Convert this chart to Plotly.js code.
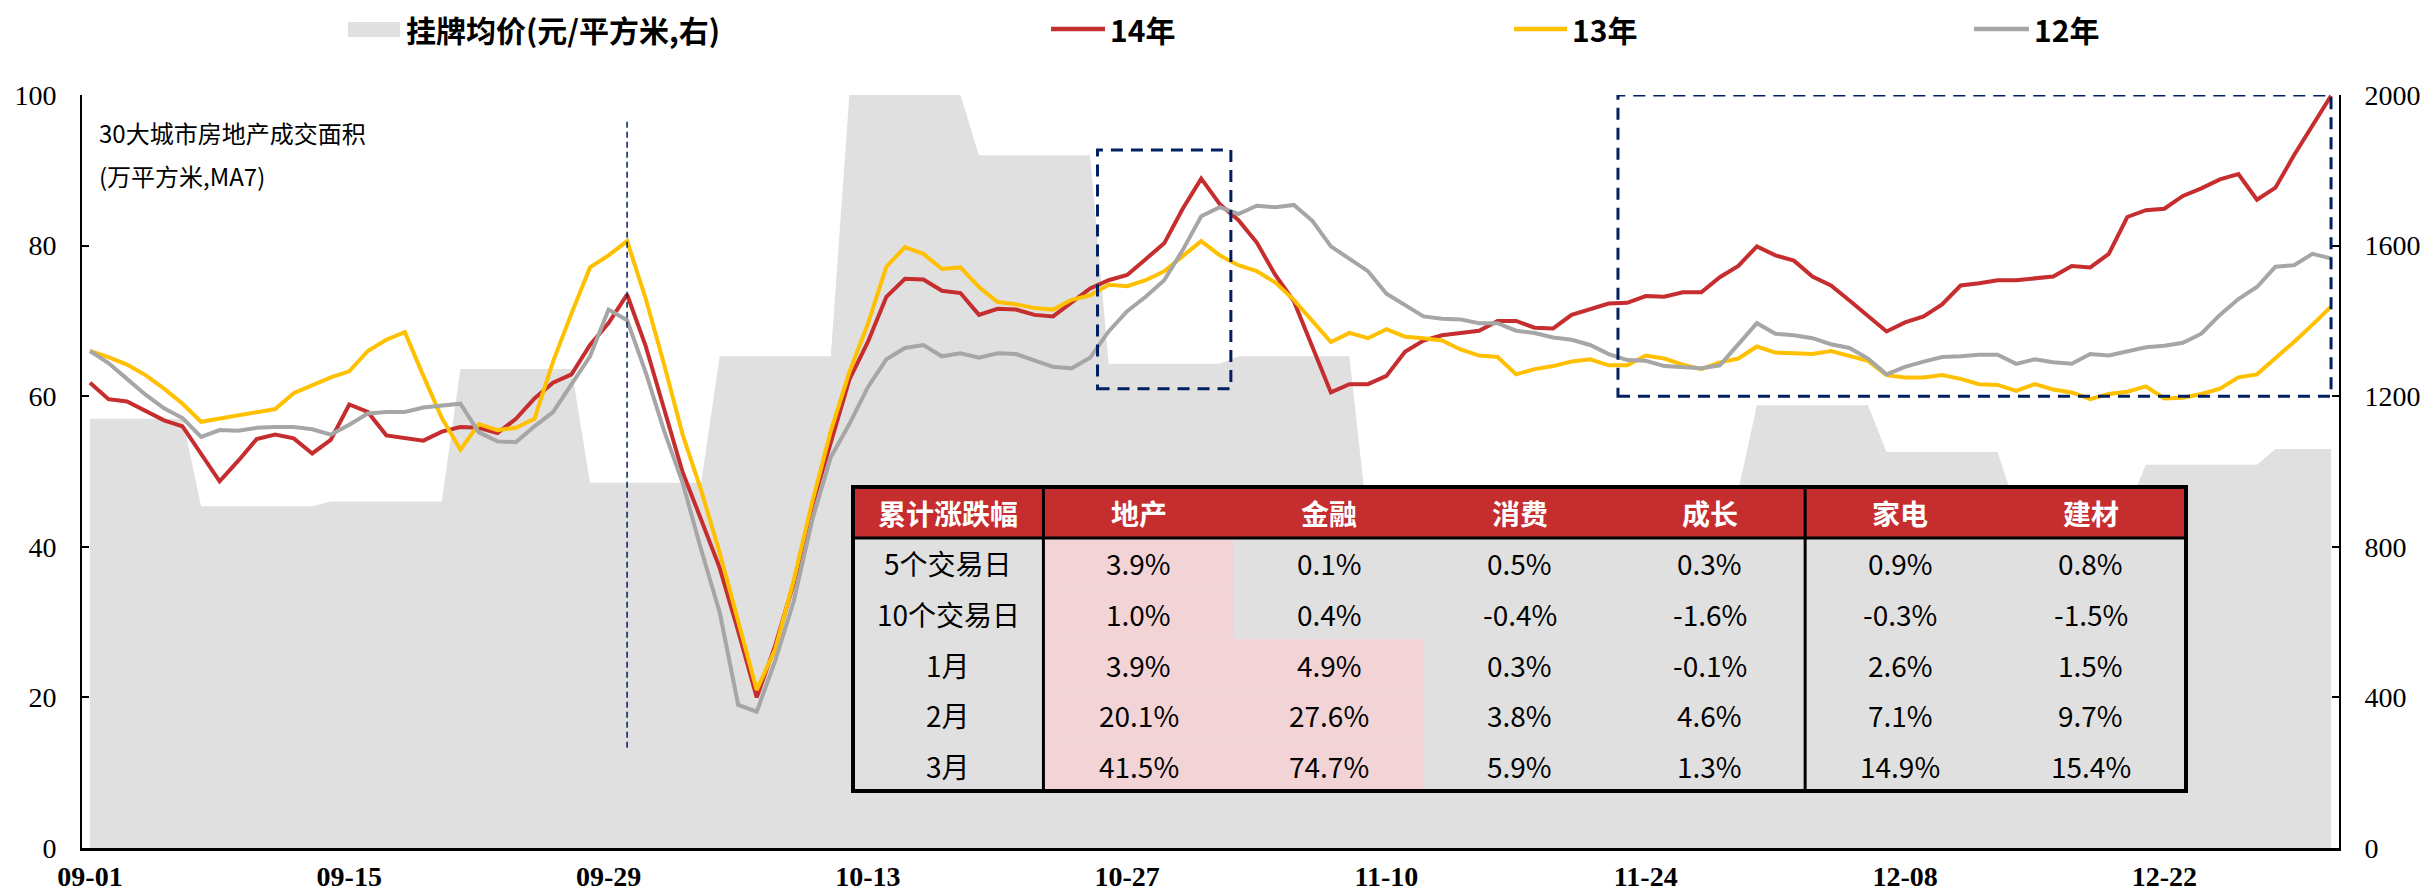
<!DOCTYPE html>
<html><head><meta charset="utf-8">
<script src="https://cdn.plot.ly/plotly-3.0.1.min.js"></script>
<style>html,body{margin:0;padding:0;background:#fff;}#chart{width:2428px;height:895px;}</style>
</head><body><div id="chart"></div>
<script>
const dates = ['09-01','09-02','09-03','09-04','09-05','09-06','09-07','09-08','09-09','09-10','09-11','09-12','09-13','09-14','09-15','09-16','09-17','09-18','09-19','09-20','09-21','09-22','09-23','09-24','09-25','09-26','09-27','09-28','09-29','09-30',
'10-01','10-02','10-03','10-04','10-05','10-06','10-07','10-08','10-09','10-10','10-11','10-12','10-13','10-14','10-15','10-16','10-17','10-18','10-19','10-20','10-21','10-22','10-23','10-24','10-25','10-26','10-27','10-28','10-29','10-30','10-31',
'11-01','11-02','11-03','11-04','11-05','11-06','11-07','11-08','11-09','11-10','11-11','11-12','11-13','11-14','11-15','11-16','11-17','11-18','11-19','11-20','11-21','11-22','11-23','11-24','11-25','11-26','11-27','11-28','11-29','11-30',
'12-01','12-02','12-03','12-04','12-05','12-06','12-07','12-08','12-09','12-10','12-11','12-12','12-13','12-14','12-15','12-16','12-17','12-18','12-19','12-20','12-21','12-22','12-23','12-24','12-25','12-26','12-27','12-28','12-29','12-30','12-31'];

const tickLabels = ['09-01','09-15','09-29','10-13','10-27','11-10','11-24','12-08','12-22'];

// 挂牌均价 (元/平方米, 右轴)
const price = [1140,1140,1140,1140,1140,1140,
908,908,908,908,908,908,908,
920,920,920,920,920,920,920,
1272,1272,1272,1272,1272,1272,1272,
970,970,970,970,970,970,970,
1306,1306,1306,1306,1306,1306,1306,
2000,2000,2000,2000,2000,2000,2000,
1840,1840,1840,1840,1840,1840,1840,
1286,1286,1286,1286,1286,1286,1286,
1306,1306,1306,1306,1306,1306,1306,
860,860,860,860,860,860,860,
930,930,930,930,930,930,930,
950,950,950,950,950,950,950,
1176,1176,1176,1176,1176,1176,1176,
1052,1052,1052,1052,1052,1052,1052,
900,900,900,900,900,900,900,
1018,1018,1018,1018,1018,1018,1018,
1060,1060,1060,1060];

// 14年
const y14 = [61.8,59.6,59.3,58.0,56.8,56.0,52.4,48.7,51.4,54.3,54.9,54.4,52.4,54.2,58.9,57.9,54.8,54.5,54.1,55.3,
55.9,55.8,55.1,57.0,59.7,61.8,62.9,66.8,69.7,73.5,66.7,58.3,49.9,43.6,37.2,28.8,20.0,26.9,35.2,45.5,
53.9,62.2,67.2,73.2,75.6,75.5,74.0,73.7,70.8,71.6,71.5,70.8,70.6,72.4,74.3,75.4,76.1,78.2,80.3,84.9,
88.9,85.5,83.4,80.4,76.1,72.6,66.6,60.5,61.6,61.6,62.7,65.9,67.4,68.1,68.4,68.7,70.0,70.0,69.1,69.0,
70.8,71.5,72.3,72.4,73.3,73.2,73.8,73.8,75.8,77.3,79.9,78.7,78.0,75.9,74.7,72.7,70.7,68.6,69.8,70.6,
72.2,74.7,75.0,75.4,75.4,75.7,75.9,77.3,77.1,78.9,83.8,84.7,84.9,86.6,87.6,88.8,89.5,86.1,87.7,92.0,
96.0,99.9];

// 13年
const y13 = [66.0,65.2,64.2,62.8,61.0,59.0,56.6,57.0,57.5,57.9,58.3,60.4,61.5,62.5,63.3,66.0,67.5,68.5,62.7,57.1,
52.9,56.3,55.5,55.8,57.0,64.6,71.0,77.1,78.7,80.6,73.0,64.2,54.9,47.5,39.2,30.3,21.0,26.4,35.6,46.0,
55.4,63.2,69.6,77.2,79.8,78.9,76.9,77.1,74.5,72.5,72.2,71.7,71.5,72.8,73.4,74.8,74.6,75.4,76.6,78.6,
80.6,78.7,77.4,76.6,75.1,72.8,69.9,67.2,68.4,67.7,68.9,67.9,67.7,67.4,66.2,65.4,65.2,62.9,63.6,64.0,
64.6,64.9,64.1,64.1,65.4,65.0,64.2,63.6,64.5,65.0,66.6,65.8,65.7,65.6,66.0,65.3,64.7,62.8,62.5,62.5,
62.8,62.3,61.6,61.5,60.7,61.6,60.9,60.5,59.6,60.3,60.6,61.3,59.7,59.8,60.3,61.0,62.5,62.9,65.0,67.2,
69.5,71.9];

// 12年
const y12 = [66.0,64.4,62.3,60.2,58.4,57.1,54.6,55.5,55.4,55.8,55.9,55.9,55.6,54.9,56.2,57.7,57.9,57.9,58.5,58.8,
59.0,55.2,54.0,53.9,56.0,57.9,61.7,65.3,71.5,70.1,63.2,55.4,48.5,39.6,31.3,19.0,18.1,24.9,32.8,43.6,
51.9,56.3,61.2,64.9,66.4,66.8,65.3,65.7,65.1,65.7,65.6,64.8,63.9,63.7,65.1,68.6,71.3,73.2,75.4,79.4,
83.9,85.1,84.2,85.3,85.1,85.4,83.3,79.9,78.2,76.6,73.6,72.1,70.6,70.3,70.2,69.7,69.7,68.7,68.4,67.8,
67.5,66.8,65.6,64.8,64.7,64.0,63.9,63.7,64.1,67.0,69.7,68.3,68.1,67.7,66.9,66.4,65.0,62.9,63.9,64.6,
65.2,65.3,65.5,65.5,64.3,64.9,64.5,64.3,65.6,65.4,66.0,66.5,66.7,67.1,68.3,70.8,72.9,74.5,77.2,77.4,
78.9,78.3];

// 表格
const tableHeaders = ['累计涨跌幅','地产','金融','消费','成长','家电','建材'];
const rowLabels = ['5个交易日','10个交易日','1月','2月','3月'];
const colRealEstate = ['3.9%','1.0%','3.9%','20.1%','41.5%'];
const colFinance = ['0.1%','0.4%','4.9%','27.6%','74.7%'];
const colConsumer = ['0.5%','-0.4%','0.3%','3.8%','5.9%'];
const colGrowth = ['0.3%','-1.6%','-0.1%','4.6%','1.3%'];
const colAppliance = ['0.9%','-0.3%','2.6%','7.1%','14.9%'];
const colBuilding = ['0.8%','-1.5%','1.5%','9.7%','15.4%'];
const highlighted = [[1,0],[1,1],[1,2],[1,3],[1,4],[2,2],[2,3],[2,4]]; // [col,row]

const RED='#C62D2F', YEL='#FFC000', GRY='#A6A6A6', AREA='#E0E0E0', PINK='#F2D4D6', NAVY='#002060';
const CJK='Noto Sans CJK SC', SERIF='Liberation Serif';

// pixel -> paper helpers for the overlay table/legend
const PL=82, PR=2339, PT=95, PB=848;
const px = x => (x-PL)/(PR-PL);
const py = y => (PB-y)/(PB-PT);

const traces = [
  {x:dates, y:price, type:'scatter', mode:'none', fill:'tozeroy', fillcolor:AREA, yaxis:'y', name:'挂牌均价(元/平方米,右)', hoverinfo:'skip', showlegend:false},
  {x:dates, y:y14, type:'scatter', mode:'lines', line:{color:RED, width:4}, yaxis:'y2', name:'14年', showlegend:false},
  {x:dates, y:y13, type:'scatter', mode:'lines', line:{color:YEL, width:4}, yaxis:'y2', name:'13年', showlegend:false},
  {x:dates, y:y12, type:'scatter', mode:'lines', line:{color:GRY, width:4}, yaxis:'y2', name:'12年', showlegend:false}
];

const shapes = [];
const annotations = [];

// dashed markers
shapes.push({type:'line', xref:'x', yref:'y2', x0:29, x1:29, y0:13.3, y1:96.9, line:{color:NAVY, width:1.5, dash:'6px,4px'}, layer:'above'});
shapes.push({type:'rect', xref:'x', yref:'y2', x0:54.4, x1:61.6, y0:61, y1:92.7, line:{color:NAVY, width:3, dash:'12px,8px'}, layer:'above'});
shapes.push({type:'rect', xref:'x', yref:'y2', x0:82.5, x1:121, y0:60, y1:100, line:{color:NAVY, width:3, dash:'12px,8px'}, layer:'above'});

// table
const tL=853, tR=2186, tT=487, tH=538, tB=791;
const cw=(tR-tL)/7, rh=(tB-tH)/5;
shapes.push({type:'rect', xref:'paper', yref:'paper', x0:px(tL), x1:px(tR), y0:py(tB), y1:py(tH), fillcolor:AREA, line:{width:0}, layer:'above'});
highlighted.forEach(([c,r])=>{
  shapes.push({type:'rect', xref:'paper', yref:'paper', x0:px(tL+c*cw), x1:px(tL+(c+1)*cw), y0:py(tH+(r+1)*rh), y1:py(tH+r*rh), fillcolor:PINK, line:{width:0}, layer:'above'});
});
shapes.push({type:'rect', xref:'paper', yref:'paper', x0:px(tL), x1:px(tR), y0:py(tH), y1:py(tT), fillcolor:RED, line:{width:0}, layer:'above'});
shapes.push({type:'line', xref:'paper', yref:'paper', x0:px(tL), x1:px(tR), y0:py(tH), y1:py(tH), line:{color:'#000', width:3}, layer:'above'});
[1,5].forEach(c=>{
  shapes.push({type:'line', xref:'paper', yref:'paper', x0:px(tL+c*cw), x1:px(tL+c*cw), y0:py(tB), y1:py(tT), line:{color:'#000', width:3}, layer:'above'});
});
shapes.push({type:'rect', xref:'paper', yref:'paper', x0:px(tL), x1:px(tR), y0:py(tB), y1:py(tT), line:{color:'#000', width:4}, layer:'above'});

tableHeaders.forEach((h,c)=>{
  annotations.push({xref:'paper', yref:'paper', x:px(tL+(c+0.5)*cw), y:py((tT+tH)/2), text:h, showarrow:false, xanchor:'center', yanchor:'middle', font:{family:CJK, size:28, color:'#fff', weight:'bold'}});
});
const cols = [rowLabels, colRealEstate, colFinance, colConsumer, colGrowth, colAppliance, colBuilding];
cols.forEach((col,c)=>{
  col.forEach((v,r)=>{
    annotations.push({xref:'paper', yref:'paper', x:px(tL+(c+0.5)*cw), y:py(tH+(r+0.5)*rh), text:v, showarrow:false, xanchor:'center', yanchor:'middle', font:{family:CJK, size:28, color:'#000'}});
  });
});

// note text
annotations.push({xref:'paper', yref:'paper', x:px(97), y:py(133), text:'30大城市房地产成交面积', showarrow:false, xanchor:'left', yanchor:'middle', font:{family:CJK, size:24, color:'#000'}});
annotations.push({xref:'paper', yref:'paper', x:px(97), y:py(175), text:'(万平方米,MA7)', showarrow:false, xanchor:'left', yanchor:'middle', font:{family:CJK, size:24, color:'#000'}});

// legend (manual)
const legY = 29;
shapes.push({type:'rect', xref:'paper', yref:'paper', x0:px(348), x1:px(400), y0:py(37), y1:py(22), fillcolor:AREA, line:{width:0}});
annotations.push({xref:'paper', yref:'paper', x:px(404), y:py(legY), text:traces[0].name, showarrow:false, xanchor:'left', yanchor:'middle', font:{family:CJK, size:30, color:'#000', weight:'bold'}});
[[1051,1105,1108,RED,1],[1514,1567,1570,YEL,2],[1974,2029,2032,GRY,3]].forEach(([a,b,t,col,i])=>{
  shapes.push({type:'line', xref:'paper', yref:'paper', x0:px(a), x1:px(b), y0:py(legY), y1:py(legY), line:{color:col, width:4.5}});
  annotations.push({xref:'paper', yref:'paper', x:px(t), y:py(legY), text:traces[i].name, showarrow:false, xanchor:'left', yanchor:'middle', font:{family:CJK, size:30, color:'#000', weight:'bold'}});
});

const layout = {
  width:2428, height:895,
  margin:{l:PL, r:2428-PR, t:PT, b:895-PB, pad:0},
  paper_bgcolor:'#fff', plot_bgcolor:'rgba(0,0,0,0)',
  showlegend:false,
  xaxis:{type:'category', range:[-0.43,121.43], tickvals:tickLabels, ticktext:tickLabels, ticks:'', showgrid:false, zeroline:false,
         showline:true, linecolor:'#000', linewidth:2.5, tickfont:{family:SERIF, size:28, color:'#000', weight:'bold'}, ticklabelstandoff:2},
  yaxis:{range:[0,2000], side:'right', tickvals:[0,400,800,1200,1600,2000], showgrid:false, zeroline:false, showline:true, linecolor:'#000', linewidth:2,
         ticks:'inside', ticklen:7, tickwidth:2, tickcolor:'#000', tickfont:{family:SERIF, size:28, color:'#000'}, ticklabelstandoff:18},
  yaxis2:{range:[0,100], side:'left', overlaying:'y', tickvals:[0,20,40,60,80,100], showgrid:false, zeroline:false, showline:true, linecolor:'#000', linewidth:2,
         ticks:'inside', ticklen:7, tickwidth:2, tickcolor:'#000', tickfont:{family:SERIF, size:28, color:'#000'}, ticklabelstandoff:18},
  shapes:shapes, annotations:annotations
};
Plotly.newPlot('chart', traces, layout, {staticPlot:true, displayModeBar:false});
</script></body></html>
